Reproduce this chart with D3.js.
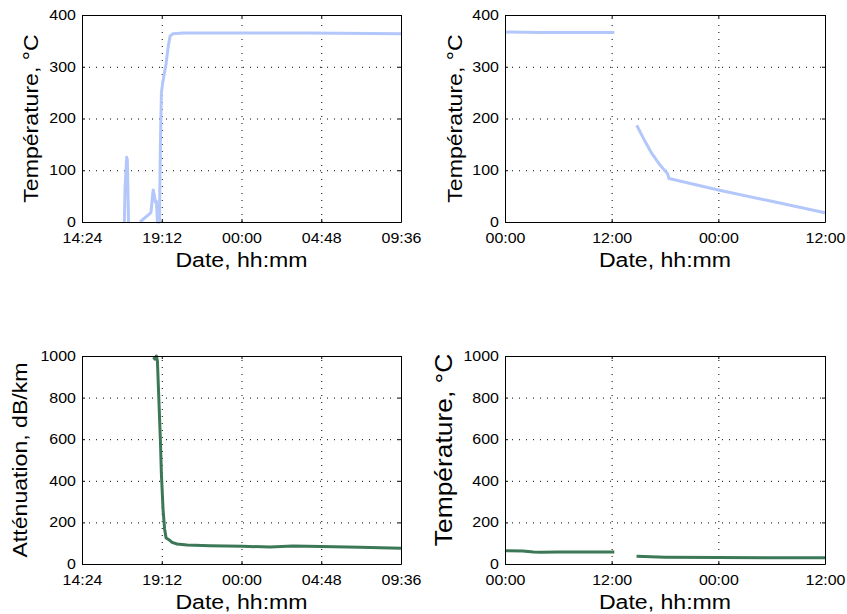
<!DOCTYPE html>
<html><head><meta charset="utf-8">
<script src="https://cdn.jsdelivr.net/npm/d3@7"></script>
<style>
body{margin:0;background:#fff}
svg{display:block}
text{font-family:"Liberation Sans",Arial,Helvetica,sans-serif;fill:#000}
</style>
</head><body>
<svg id="c" width="847" height="614"></svg>
<script>
// ---------- data (hours counted from midnight of the first day) ----------
const leftXTicks = [14.4, 19.2, 24, 28.8, 33.6];
const rightXTicks = [0, 12, 24, 36];
const tempTicks = [0, 100, 200, 300, 400];
const attTicks = [0, 200, 400, 600, 800, 1000];

// top-left: temperature during heating
const heatHours = [16.95, 16.99, 17.09, 17.13, 17.20, null,
  17.89, 18.55, 18.66, 18.69, 18.76, 18.82, 18.88, 18.94, 19.06, 19.12, 19.18, 19.24,
  19.40, 19.46, 19.59, 19.70, 19.88, 20.5, 24, 28, 33.6];
const heatTemp = [0, 65, 125, 120, 0, null,
  0, 18, 55, 62, 50, 38, 40, 0, 0, 150, 250, 265,
  295, 306, 339, 359, 364, 365, 365, 365, 364];

// top-right: temperature plateau and cooling
const coolHours = [0, 4, 8, 12.3, null, 14.82, 15.56, 16.5, 17.44, 18.19, 18.3, 18.45, 24, 30, 36];
const coolTemp = [367, 366, 366, 366, null, 187, 162, 133, 110, 95, 93, 84, 62, 40, 18];

// bottom-left: attenuation during heating
const attHours = [18.70, 18.79, 18.88, 18.94, 19.05, 19.12, 19.18, 19.28, 19.37, 19.46,
  19.61, 19.82, 20.12, 20.72, 22.10, 24.03, 25.72, 27.10, 28.79, 31.13, 33.6];
const attValues = [995, 985, 1000, 975, 740, 590, 430, 260, 170, 125,
  118, 104, 96, 91, 88, 85, 82, 86, 84, 80, 76];

// bottom-right: attenuation plateau and cooling
const att2Hours = [0, 2, 3.2, 4, 6, 9, 12.3, null, 14.8, 18, 24, 30, 36];
const att2Values = [64, 63, 58, 56, 58, 58, 58, null, 37, 33, 31, 30, 30];

// ---------- drawing ----------
const svg = d3.select('#c');
const blue = '#b3c7fb';
const green = '#3c7858';
const TICK_FS = 14, TICK_SX = 1.14;
const LAB_FS = 21, LAB_SX = 1.1;

const pad2 = n => String(n).padStart(2, '0');
const hhmm = h => { const m = ((Math.round(h * 60) % 1440) + 1440) % 1440; return pad2(Math.floor(m / 60)) + ':' + pad2(m % 60); };

function panel(o) {
  const x = d3.scaleLinear().domain(o.xDomain).range([o.x0, o.x1]);
  const y = d3.scaleLinear().domain(o.yDomain).range([o.y1, o.y0]);
  const W = o.x1 - o.x0, H = o.y1 - o.y0;
  const g = svg.append('g');

  // grid
  const gridStyle = s => {
    s.select('.domain').remove();
    s.selectAll('line').attr('stroke', '#000').attr('stroke-width', 1).attr('stroke-dasharray', '1,6');
  };
  g.append('g').attr('transform', `translate(0,${o.y1})`)
    .call(d3.axisBottom(x).tickValues(o.xTicks).tickSize(-H).tickFormat(''))
    .call(gridStyle);
  g.append('g').attr('transform', `translate(${o.x0},0)`)
    .call(d3.axisLeft(y).tickValues(o.yTicks).tickSize(-W).tickFormat(''))
    .call(gridStyle);

  // data line
  const pts = o.xs.map((t, i) => [t, o.ys[i]]);
  g.append('path').datum(pts)
    .attr('d', d3.line().defined(d => d[0] != null && d[1] != null).x(d => x(d[0])).y(d => y(d[1])))
    .attr('fill', 'none').attr('stroke', o.color).attr('stroke-width', 3)
    .attr('stroke-linejoin', 'round').attr('stroke-linecap', 'butt');

  // axes with inward ticks
  const axStyle = s => {
    s.select('.domain').attr('stroke', '#000').attr('stroke-width', 1);
    s.selectAll('.tick line').attr('stroke', '#000');
  };
  const bx = g.append('g').attr('transform', `translate(0,${o.y1})`)
    .call(d3.axisBottom(x).tickValues(o.xTicks).tickSizeInner(-3).tickSizeOuter(0).tickPadding(11).tickFormat(hhmm))
    .call(axStyle);
  bx.selectAll('text').attr('font-size', TICK_FS).attr('font-family', null)
    .attr('transform', `scale(${TICK_SX},1)`);
  const lx = g.append('g').attr('transform', `translate(${o.x0},0)`)
    .call(d3.axisLeft(y).tickValues(o.yTicks).tickSizeInner(-3).tickSizeOuter(0).tickPadding(5.3).tickFormat(d3.format('d')))
    .call(axStyle);
  lx.selectAll('text').attr('font-size', TICK_FS).attr('font-family', null)
    .attr('transform', `scale(${TICK_SX},1)`);
  g.append('g').attr('transform', `translate(0,${o.y0})`)
    .call(d3.axisTop(x).tickValues(o.xTicks).tickSizeInner(-3).tickSizeOuter(0).tickFormat(''))
    .call(axStyle);
  g.append('g').attr('transform', `translate(${o.x1},0)`)
    .call(d3.axisRight(y).tickValues(o.yTicks).tickSizeInner(-3).tickSizeOuter(0).tickFormat(''))
    .call(axStyle);

  // labels
  g.append('text')
    .attr('transform', `translate(${(o.x0 + o.x1) / 2},${o.y1 + 44.5}) scale(${LAB_SX},1)`)
    .attr('text-anchor', 'middle').attr('font-size', LAB_FS).text('Date, hh:mm');
  const cy = o.ylabCy != null ? o.ylabCy : (o.y0 + o.y1) / 2;
  g.append('text')
    .attr('transform', `translate(${o.x0 - o.ylabOff},${cy}) rotate(-90) scale(${LAB_SX},1)`)
    .attr('text-anchor', 'middle').attr('font-size', o.ylabFs || LAB_FS).text(o.ylabel);
}

panel({x0: 82, x1: 401, y0: 15, y1: 222, xDomain: [14.4, 33.6], xTicks: leftXTicks,
  yDomain: [0, 400], yTicks: tempTicks, xs: heatHours, ys: heatTemp, color: blue,
  ylabel: 'Température, °C', ylabOff: 44});
panel({x0: 505, x1: 825, y0: 15, y1: 222, xDomain: [0, 36], xTicks: rightXTicks,
  yDomain: [0, 400], yTicks: tempTicks, xs: coolHours, ys: coolTemp, color: blue,
  ylabel: 'Température, °C', ylabOff: 43});
panel({x0: 82, x1: 401, y0: 356, y1: 564, xDomain: [14.4, 33.6], xTicks: leftXTicks,
  yDomain: [0, 1000], yTicks: attTicks, xs: attHours, ys: attValues, color: green,
  ylabel: 'Atténuation, dB/km', ylabOff: 55});
panel({x0: 505, x1: 825, y0: 356, y1: 564, xDomain: [0, 36], xTicks: rightXTicks,
  yDomain: [0, 1000], yTicks: attTicks, xs: att2Hours, ys: att2Values, color: green,
  ylabel: 'Température, °C', ylabOff: 53, ylabFs: 24, ylabCy: 450});
</script>
</body></html>
